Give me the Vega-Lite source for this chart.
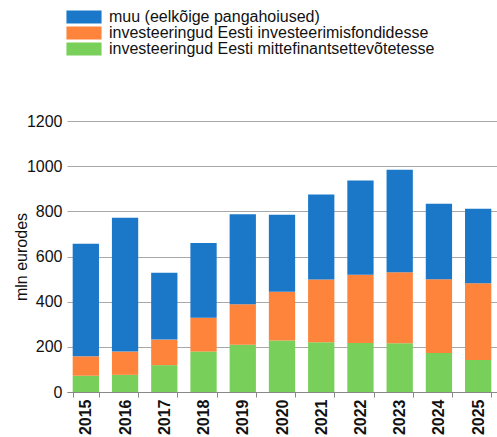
{
  "$schema": "https://vega.github.io/schema/vega-lite/v6.json",
  "width": 430,
  "height": 271,
  "autosize": {"type": "none"},
  "padding": {"left": 67, "top": 121, "right": 0, "bottom": 45},
  "background": "white",
  "config": {
    "font": "Liberation Sans",
    "view": {"stroke": null}
  },
  "data": {
    "values": [
      {"year": "2015", "type": "investeeringud Eesti mittefinantsettevõtetesse", "ord": 1, "value": 72},
      {"year": "2015", "type": "investeeringud Eesti investeerimisfondidesse", "ord": 2, "value": 86},
      {"year": "2015", "type": "muu (eelkõige pangahoiused)", "ord": 3, "value": 498},
      {"year": "2016", "type": "investeeringud Eesti mittefinantsettevõtetesse", "ord": 1, "value": 76},
      {"year": "2016", "type": "investeeringud Eesti investeerimisfondidesse", "ord": 2, "value": 103},
      {"year": "2016", "type": "muu (eelkõige pangahoiused)", "ord": 3, "value": 593},
      {"year": "2017", "type": "investeeringud Eesti mittefinantsettevõtetesse", "ord": 1, "value": 119},
      {"year": "2017", "type": "investeeringud Eesti investeerimisfondidesse", "ord": 2, "value": 113},
      {"year": "2017", "type": "muu (eelkõige pangahoiused)", "ord": 3, "value": 296},
      {"year": "2018", "type": "investeeringud Eesti mittefinantsettevõtetesse", "ord": 1, "value": 179},
      {"year": "2018", "type": "investeeringud Eesti investeerimisfondidesse", "ord": 2, "value": 150},
      {"year": "2018", "type": "muu (eelkõige pangahoiused)", "ord": 3, "value": 331},
      {"year": "2019", "type": "investeeringud Eesti mittefinantsettevõtetesse", "ord": 1, "value": 209},
      {"year": "2019", "type": "investeeringud Eesti investeerimisfondidesse", "ord": 2, "value": 180},
      {"year": "2019", "type": "muu (eelkõige pangahoiused)", "ord": 3, "value": 398},
      {"year": "2020", "type": "investeeringud Eesti mittefinantsettevõtetesse", "ord": 1, "value": 228},
      {"year": "2020", "type": "investeeringud Eesti investeerimisfondidesse", "ord": 2, "value": 216},
      {"year": "2020", "type": "muu (eelkõige pangahoiused)", "ord": 3, "value": 341},
      {"year": "2021", "type": "investeeringud Eesti mittefinantsettevõtetesse", "ord": 1, "value": 220},
      {"year": "2021", "type": "investeeringud Eesti investeerimisfondidesse", "ord": 2, "value": 278},
      {"year": "2021", "type": "muu (eelkõige pangahoiused)", "ord": 3, "value": 376},
      {"year": "2022", "type": "investeeringud Eesti mittefinantsettevõtetesse", "ord": 1, "value": 217},
      {"year": "2022", "type": "investeeringud Eesti investeerimisfondidesse", "ord": 2, "value": 302},
      {"year": "2022", "type": "muu (eelkõige pangahoiused)", "ord": 3, "value": 417},
      {"year": "2023", "type": "investeeringud Eesti mittefinantsettevõtetesse", "ord": 1, "value": 216},
      {"year": "2023", "type": "investeeringud Eesti investeerimisfondidesse", "ord": 2, "value": 314},
      {"year": "2023", "type": "muu (eelkõige pangahoiused)", "ord": 3, "value": 454},
      {"year": "2024", "type": "investeeringud Eesti mittefinantsettevõtetesse", "ord": 1, "value": 173},
      {"year": "2024", "type": "investeeringud Eesti investeerimisfondidesse", "ord": 2, "value": 326},
      {"year": "2024", "type": "muu (eelkõige pangahoiused)", "ord": 3, "value": 335},
      {"year": "2025", "type": "investeeringud Eesti mittefinantsettevõtetesse", "ord": 1, "value": 142},
      {"year": "2025", "type": "investeeringud Eesti investeerimisfondidesse", "ord": 2, "value": 340},
      {"year": "2025", "type": "muu (eelkõige pangahoiused)", "ord": 3, "value": 329}
    ]
  },
  "mark": {"type": "bar"},
  "encoding": {
    "x": {
      "field": "year", "type": "ordinal",
      "scale": {"paddingInner": 0.33, "paddingOuter": 0.145},
      "axis": {
        "title": null,
        "labelAngle": -90,
        "labelFontSize": 16,
        "labelFontWeight": "bold",
        "labelColor": "#111",
        "labelPadding": 2,
        "tickBand": "extent",
        "tickSize": 5,
        "tickColor": "#888",
        "domainColor": "#888",
        "grid": false
      }
    },
    "y": {
      "field": "value", "type": "quantitative", "stack": "zero",
      "scale": {"domain": [0, 1200], "nice": false},
      "axis": {
        "title": "mln eurodes",
        "titleFontSize": 16,
        "titleFontWeight": "normal",
        "titleColor": "#111",
        "titlePadding": -3,
        "values": [0, 200, 400, 600, 800, 1000, 1200],
        "format": "d",
        "labelFontSize": 16,
        "labelColor": "#111",
        "labelPadding": 5,
        "ticks": false,
        "domain": false,
        "grid": true,
        "gridColor": "#a8a8a8",
        "gridWidth": 1
      }
    },
    "color": {
      "field": "type", "type": "nominal",
      "scale": {
        "domain": ["muu (eelkõige pangahoiused)", "investeeringud Eesti investeerimisfondidesse", "investeeringud Eesti mittefinantsettevõtetesse"],
        "range": ["#1b78c8", "#fe833b", "#78cf5a"]
      },
      "legend": {
        "title": null,
        "orient": "none",
        "legendX": -1,
        "legendY": -112,
        "symbolType": "M-2.7,-1L2.7,-1L2.7,1L-2.7,1Z",
        "symbolSize": 169,
        "symbolStrokeWidth": 0,
        "symbolOpacity": 1,
        "labelFontSize": 16,
        "labelColor": "#111",
        "labelLimit": 500,
        "labelOffset": 17,
        "rowPadding": 0,
        "symbolOffset": 10
      }
    },
    "order": {"field": "ord", "type": "quantitative"}
  }
}
